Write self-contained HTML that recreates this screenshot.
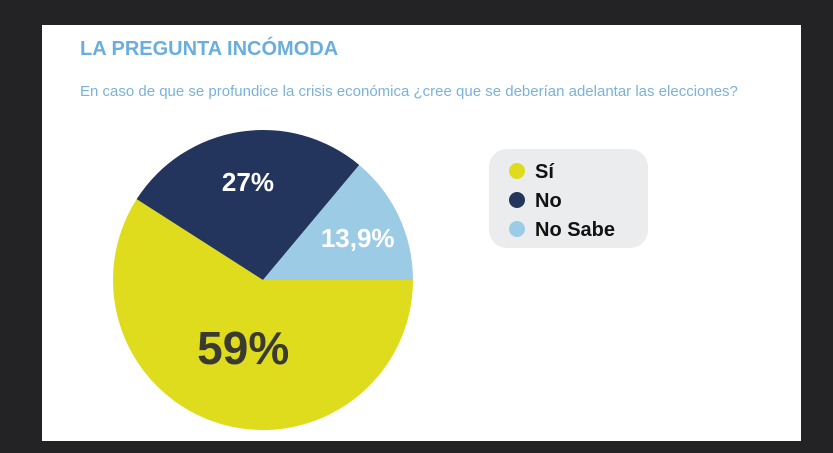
<!DOCTYPE html>
<html><head><meta charset="utf-8"><style>
body{margin:0;width:833px;height:453px;background:#232326;overflow:hidden;font-family:"Liberation Sans Narrow","Liberation Sans",sans-serif}
#panel{position:absolute;left:42px;top:25px;width:759px;height:416px;background:#fff}
</style></head><body>
<div id="panel"></div>
<svg width="833" height="453" style="position:absolute;left:0;top:0">
<text x="80" y="55" font-size="20" font-weight="bold" fill="#6aaede">LA PREGUNTA INCÓMODA</text>
<text x="80" y="96" font-size="15" fill="#7ab3d8">En caso de que se profundice la crisis económica ¿cree que se deberían adelantar las elecciones?</text>
<g id="slices"></g>
<g id="labels"></g>
<rect x="489" y="149" width="159" height="99" rx="18" fill="#ebeced"/>
<g id="legend"></g>
</svg>
<script>
const categories=["Sí","No","No Sabe"];
const values=[59,27,13.9];
const valueLabels=["59%","27%","13,9%"];
const colors=["#dedc1c","#23355d","#9ccbe6"];
const labelColors=["#3a3a30","#ffffff","#ffffff"];
const labelSizes=[46,26,26];
const cx=263,cy=280,r=150;
const ns="http://www.w3.org/2000/svg";
const total=values.reduce((a,b)=>a+b,0);
function ang(v){return v/total*2*Math.PI;}
let a0=0;
const sg=document.getElementById('slices'),lg=document.getElementById('labels'),leg=document.getElementById('legend');
values.forEach((v,i)=>{
  const a1=a0+ang(v);
  const x0=cx+r*Math.cos(a0),y0=cy+r*Math.sin(a0),x1=cx+r*Math.cos(a1),y1=cy+r*Math.sin(a1);
  const p=document.createElementNS(ns,'path');
  p.setAttribute('d',`M${cx},${cy}L${x0},${y0}A${r},${r} 0 ${a1-a0>Math.PI?1:0} 1 ${x1},${y1}Z`);
  p.setAttribute('fill',colors[i]);
  
  
  sg.appendChild(p);
  const mid=(a0+a1)/2,lr=i===0?r*0.47:r*0.66;
  const t=document.createElementNS(ns,'text');
  t.setAttribute('x',cx+lr*Math.cos(mid)+(i===2?5:0));
  t.setAttribute('y',cy+lr*Math.sin(mid)+labelSizes[i]*0.35);
  t.setAttribute('text-anchor','middle');
  t.setAttribute('font-size',labelSizes[i]);
  t.setAttribute('font-weight','bold');
  t.setAttribute('fill',labelColors[i]);
  t.textContent=valueLabels[i];
  
  
  lg.appendChild(t);
  const c=document.createElementNS(ns,'circle');
  c.setAttribute('cx',517);c.setAttribute('cy',171+i*29);c.setAttribute('r',8);c.setAttribute('fill',colors[i]);
  
  
  leg.appendChild(c);
  const lt=document.createElementNS(ns,'text');
  lt.setAttribute('x',535);lt.setAttribute('y',178+i*29);lt.setAttribute('font-size',20);lt.setAttribute('font-weight','bold');lt.setAttribute('fill','#111');
  lt.textContent=categories[i];
  
  
  leg.appendChild(lt);
  a0=a1;
});
</script>
</body></html>
